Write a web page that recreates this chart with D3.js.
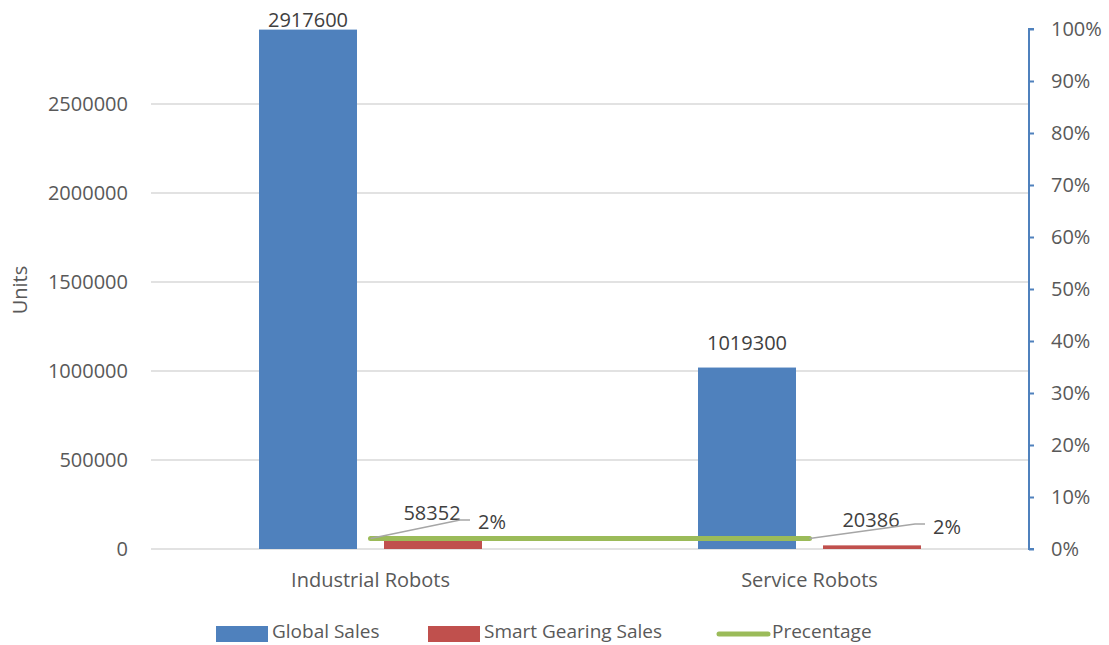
<!DOCTYPE html>
<html>
<head>
<meta charset="utf-8">
<script src="https://cdn.jsdelivr.net/npm/d3@7"></script>
<style>
  html, body { margin: 0; padding: 0; background: #fff; }
  svg { display: block; font-family: "Open Sans", sans-serif; }
</style>
</head>
<body>
<svg id="chart" width="1109" height="645"></svg>
<script>
// Robot sales: global units vs. smart gearing units, with share on the right axis
const categories = ["Industrial Robots", "Service Robots"];
const globalSales = [2917600, 1019300];
const smartGearingSales = [58352, 20386];
const percentage = [0.02, 0.02];
const leftTicks = [0, 500000, 1000000, 1500000, 2000000, 2500000];
const rightTicks = [0, 0.1, 0.2, 0.3, 0.4, 0.5, 0.6, 0.7, 0.8, 0.9, 1.0];
const seriesNames = ["Global Sales", "Smart Gearing Sales", "Precentage"];

const colors = { global: "#4F81BD", smart: "#C0504D", pct: "#9BBB59" };
const textColor = "#595959";
const fontSize = 20;

const svg = d3.select("#chart");
const plot = { left: 151, right: 1029, top: 29, bottom: 549 };

const x = d3.scaleBand().domain(categories).range([plot.left, plot.right]);
const yL = d3.scaleLinear().domain([0, 2921000]).range([plot.bottom, plot.top]);
const yR = d3.scaleLinear().domain([0, 1]).range([plot.bottom, plot.top]);

// horizontal gridlines
svg.append("g").selectAll("line").data(leftTicks).join("line")
  .attr("x1", plot.left).attr("x2", plot.right)
  .attr("y1", d => yL(d)).attr("y2", d => yL(d))
  .attr("stroke", "#D9D9D9").attr("stroke-width", 1.5);

// left axis labels
const leftAxis = d3.axisLeft(yL).tickValues(leftTicks).tickSize(0).tickPadding(23).tickFormat(d3.format("d"));
const gL = svg.append("g").attr("transform", `translate(${plot.left},0)`).call(leftAxis);
gL.select(".domain").remove();
gL.selectAll("text").attr("fill", textColor).style("font-size", fontSize + "px").style("font-family", "Open Sans");

// right axis
const rightAxis = d3.axisRight(yR).tickValues(rightTicks).tickSize(5).tickPadding(17).tickFormat(d3.format(".0%"));
const gR = svg.append("g").attr("transform", `translate(${plot.right},0)`).call(rightAxis);
gR.select(".domain").attr("stroke", colors.global).attr("stroke-width", 2).attr("d", `M5,${yR(1)}H0V${yR(0)}H5`);
gR.selectAll(".tick line").attr("stroke", colors.global).attr("stroke-width", 2);
gR.selectAll("text").attr("fill", textColor).style("font-size", fontSize + "px").style("font-family", "Open Sans");

// bars
const barW = 98, gap = 27;
const gBars = svg.append("g");
gBars.selectAll("rect.g").data(categories).join("rect").attr("class", "g")
  .attr("x", d => x(d) + x.bandwidth() / 2 - gap / 2 - barW)
  .attr("width", barW)
  .attr("y", (d, i) => yL(globalSales[i]))
  .attr("height", (d, i) => yL(0) - yL(globalSales[i]))
  .attr("fill", colors.global);
gBars.selectAll("rect.s").data(categories).join("rect").attr("class", "s")
  .attr("x", d => x(d) + x.bandwidth() / 2 + gap / 2)
  .attr("width", barW)
  .attr("y", (d, i) => yL(smartGearingSales[i]))
  .attr("height", (d, i) => yL(0) - yL(smartGearingSales[i]))
  .attr("fill", colors.smart);

// percentage line
const line = d3.line().x((d, i) => x(categories[i]) + x.bandwidth() / 2).y(d => yR(d));
svg.append("path").datum(percentage).attr("d", line)
  .attr("fill", "none").attr("stroke", colors.pct).attr("stroke-width", 5).attr("stroke-linecap", "round");

// value labels for global sales
const globalLabelY = [yL(globalSales[0]) - 3, yL(globalSales[1]) - 18];
svg.append("g").selectAll("text").data(globalSales).join("text")
  .attr("x", (d, i) => x(categories[i]) + x.bandwidth() / 2 - gap / 2 - barW / 2)
  .attr("y", (d, i) => globalLabelY[i])
  .attr("text-anchor", "middle").attr("fill", "#404040")
  .style("font-size", fontSize + "px").text(d => d);

// value labels for smart gearing sales
const smartLabelY = [yL(0) - 29, yL(0) - 22];
svg.append("g").selectAll("text").data(smartGearingSales).join("text")
  .attr("x", (d, i) => x(categories[i]) + x.bandwidth() / 2 + gap / 2 + barW / 2 - 1)
  .attr("y", (d, i) => smartLabelY[i])
  .attr("text-anchor", "middle").attr("fill", "#404040")
  .style("font-size", fontSize + "px").text(d => d);

// percentage labels with leader lines
const pctLabel = [
  { lx: 470, ly: 520, tx: 478, ty: 529 },
  { lx: 925, ly: 524, tx: 933, ty: 534 }
];
const gPct = svg.append("g");
percentage.forEach((p, i) => {
  const px = x(categories[i]) + x.bandwidth() / 2, py = yR(p);
  const L = pctLabel[i];
  gPct.append("path")
    .attr("d", `M${px},${py}L${L.lx - 10},${L.ly}H${L.lx}`)
    .attr("fill", "none").attr("stroke", "#A6A6A6").attr("stroke-width", 1.5);
  gPct.append("text").attr("x", L.tx).attr("y", L.ty)
    .attr("fill", "#404040").style("font-size", fontSize + "px")
    .text(d3.format(".0%")(p));
});

// category labels
svg.append("g").selectAll("text").data(categories).join("text")
  .attr("x", d => x(d) + x.bandwidth() / 2).attr("y", 587)
  .attr("text-anchor", "middle").attr("fill", textColor)
  .style("font-size", fontSize + "px").text(d => d);

// y axis title
svg.append("text").attr("transform", "translate(27,290) rotate(-90)")
  .attr("text-anchor", "middle").attr("fill", textColor)
  .style("font-size", fontSize + "px").text("Units");

// legend
const legend = svg.append("g");
const legItems = [
  { name: seriesNames[0], type: "rect", color: colors.global, x: 216 },
  { name: seriesNames[1], type: "rect", color: colors.smart, x: 428 },
  { name: seriesNames[2], type: "line", color: colors.pct, x: 716 }
];
legItems.forEach(it => {
  if (it.type === "rect") {
    legend.append("rect").attr("x", it.x).attr("y", 626).attr("width", 52).attr("height", 16).attr("fill", it.color);
  } else {
    legend.append("line").attr("x1", it.x + 3).attr("x2", it.x + 52).attr("y1", 634).attr("y2", 634)
      .attr("stroke", it.color).attr("stroke-width", 5).attr("stroke-linecap", "round");
  }
  legend.append("text").attr("x", it.x + 56).attr("y", 638)
    .attr("fill", textColor).style("font-size", "19px").text(it.name);
});
</script>
</body>
</html>
